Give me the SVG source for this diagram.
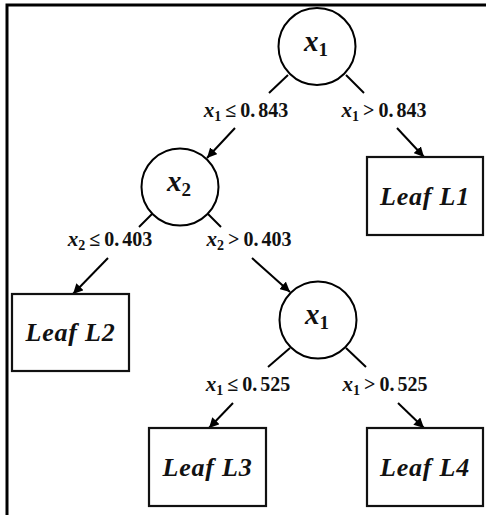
<svg xmlns="http://www.w3.org/2000/svg" width="486" height="515" viewBox="0 0 486 515">
<style>
.bg{fill:#fff}
.frame{fill:none;stroke:#000;stroke-width:3}
.node{fill:#fff;stroke:#000;stroke-width:2}
.leaf{fill:#fff;stroke:#111;stroke-width:2.2}
.edge{fill:none;stroke:#000;stroke-width:2}
.var{font-family:"Liberation Serif","DejaVu Serif",serif;font-weight:bold;font-style:italic;font-size:29px;fill:#111}
.sub{font-style:normal;font-size:19px}
.cond{font-family:"Liberation Serif","DejaVu Serif",serif;font-weight:bold;font-size:20px;fill:#111}
.ci{font-style:italic;font-size:21px}
.cs{font-size:14px}
.leaftxt{font-family:"Liberation Serif","DejaVu Serif",serif;font-weight:bold;font-style:italic;font-size:26px;fill:#111;letter-spacing:0.8px}
</style>
<defs>
<marker id="arr" markerUnits="userSpaceOnUse" markerWidth="12" markerHeight="10" refX="10" refY="5" orient="auto">
<path d="M0,0 L10,5 L0,10 Z" fill="#000"/>
</marker>
</defs>
<rect class="bg" x="0" y="0" width="486" height="515"/>
<path class="frame" d="M7,515 V5 H486"/>

<g id="connectors">
<line class="edge" x1="288" y1="75" x2="269" y2="93"/>
<line class="edge" x1="235" y1="128" x2="207" y2="158" marker-end="url(#arr)"/>
<line class="edge" x1="346" y1="75" x2="364" y2="93"/>
<line class="edge" x1="397" y1="128" x2="424" y2="157" marker-end="url(#arr)"/>
<line class="edge" x1="152" y1="214" x2="139" y2="227"/>
<line class="edge" x1="108" y1="258" x2="73" y2="294" marker-end="url(#arr)"/>
<line class="edge" x1="208" y1="214" x2="221" y2="227"/>
<line class="edge" x1="252" y1="258" x2="290" y2="292" marker-end="url(#arr)"/>
<line class="edge" x1="290" y1="348" x2="268" y2="367"/>
<line class="edge" x1="233" y1="403" x2="209" y2="428" marker-end="url(#arr)"/>
<line class="edge" x1="346" y1="348" x2="366" y2="367"/>
<line class="edge" x1="398" y1="403" x2="424" y2="428" marker-end="url(#arr)"/>
</g>

<g id="labels">
<text class="cond" x="246" y="117" text-anchor="middle"><tspan class="ci">x</tspan><tspan class="cs" dy="4">1</tspan><tspan dy="-4" dx="4">≤</tspan><tspan dx="4">0.</tspan><tspan dx="3">843</tspan></text>
<text class="cond" x="384" y="117" text-anchor="middle"><tspan class="ci">x</tspan><tspan class="cs" dy="4">1</tspan><tspan dy="-4" dx="4">&gt;</tspan><tspan dx="4">0.</tspan><tspan dx="3">843</tspan></text>
<text class="cond" x="110" y="246" text-anchor="middle"><tspan class="ci">x</tspan><tspan class="cs" dy="4">2</tspan><tspan dy="-4" dx="4">≤</tspan><tspan dx="4">0.</tspan><tspan dx="3">403</tspan></text>
<text class="cond" x="249" y="246" text-anchor="middle"><tspan class="ci">x</tspan><tspan class="cs" dy="4">2</tspan><tspan dy="-4" dx="4">&gt;</tspan><tspan dx="4">0.</tspan><tspan dx="3">403</tspan></text>
<text class="cond" x="248" y="391" text-anchor="middle"><tspan class="ci">x</tspan><tspan class="cs" dy="4">1</tspan><tspan dy="-4" dx="4">≤</tspan><tspan dx="4">0.</tspan><tspan dx="3">525</tspan></text>
<text class="cond" x="385" y="391" text-anchor="middle"><tspan class="ci">x</tspan><tspan class="cs" dy="4">1</tspan><tspan dy="-4" dx="4">&gt;</tspan><tspan dx="4">0.</tspan><tspan dx="3">525</tspan></text>
</g>

<g id="n_root">
<circle class="node" cx="317" cy="46.5" r="38.5"/>
<text class="var" x="316" y="51" text-anchor="middle">x<tspan class="sub" dy="5">1</tspan></text>
</g>
<g id="n_x2">
<circle class="node" cx="180" cy="187" r="38.5"/>
<text class="var" x="179" y="191" text-anchor="middle">x<tspan class="sub" dy="5">2</tspan></text>
</g>
<g id="n_x1b">
<circle class="node" cx="318" cy="320" r="38.5"/>
<text class="var" x="317" y="324" text-anchor="middle">x<tspan class="sub" dy="5">1</tspan></text>
</g>

<g id="leaf1">
<rect class="leaf" x="367" y="157" width="116" height="78"/>
<text class="leaftxt" x="425" y="205" text-anchor="middle">Leaf L1</text>
</g>
<g id="leaf2">
<rect class="leaf" x="12" y="294" width="117" height="77"/>
<text class="leaftxt" x="70.5" y="341" text-anchor="middle">Leaf L2</text>
</g>
<g id="leaf3">
<rect class="leaf" x="149" y="428" width="117" height="78"/>
<text class="leaftxt" x="207.5" y="476" text-anchor="middle">Leaf L3</text>
</g>
<g id="leaf4">
<rect class="leaf" x="367" y="428" width="116" height="78"/>
<text class="leaftxt" x="425" y="476" text-anchor="middle">Leaf L4</text>
</g>
</svg>
